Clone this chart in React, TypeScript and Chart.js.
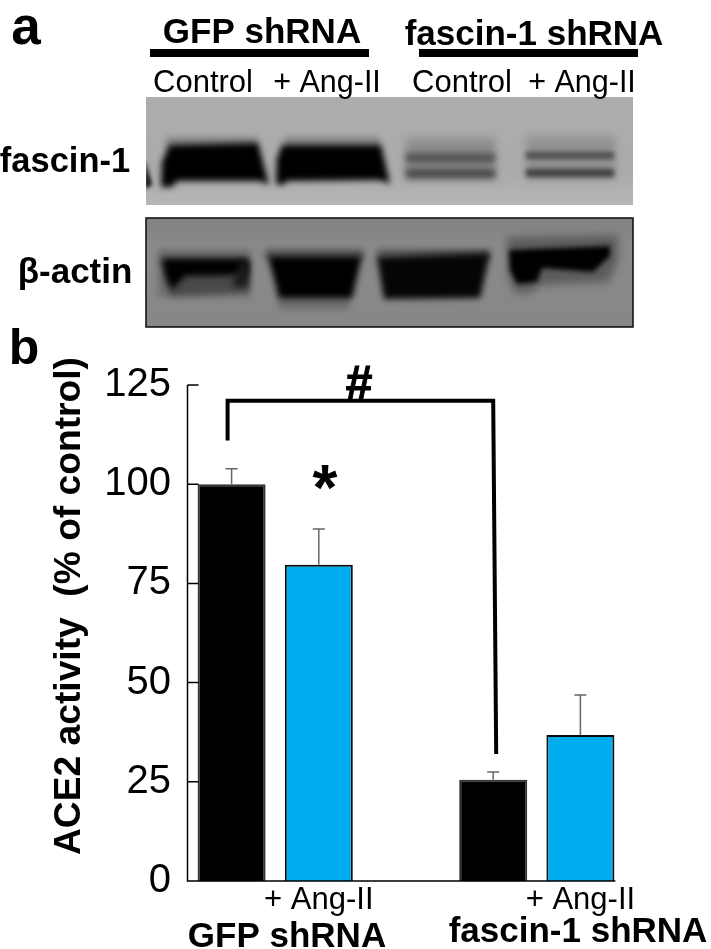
import React, { useEffect, useRef } from "react";
import { Chart, registerables } from "chart.js";

Chart.register(...registerables);

const categories = ["Control", "+ Ang-II", "", "Control", "+ Ang-II"];
const tickLabels = ["", "+ Ang-II", "", "", "+ Ang-II"];
const activity = [100, 79.7, null, 25.5, 36.8];
const errorTops = [103.9, 88.7, null, 27.5, 46.9];
const barColors = ["#000000", "#00AEEF", "#ffffff", "#000000", "#00AEEF"];
const barBorders = ["#333333", "#0a0a0a", "#ffffff", "#333333", "#0a0a0a"];
const yTicks = [0, 25, 50, 75, 100, 125];
const FONT = '"Liberation Sans", Arial, sans-serif';

type Smear = { pts: number[]; c: string; b: number };

const box = (x0: number, y0: number, x1: number, y1: number) => [x0, y0, x1, y0, x1, y1, x0, y1];

const fascinSmears: Smear[] = [
  { pts: box(166, 137, 258, 148), c: "#858585", b: 3 },
  { pts: box(284, 137, 380, 148), c: "#858585", b: 3 },
  { pts: [169, 145, 258, 143, 269, 185, 260, 181, 177, 181, 172, 187, 161, 187, 162, 162], c: "#000", b: 3 },
  { pts: [282, 145, 381, 145, 390, 184, 380, 180, 287, 181, 283, 185, 276, 184, 277, 158], c: "#000", b: 3 },
  { pts: [145, 160, 152, 185, 145, 189], c: "#050505", b: 2 },
  { pts: box(406, 138, 495, 180), c: "#8c8c8c", b: 4 },
  { pts: box(406, 153, 495, 163), c: "#555", b: 3 },
  { pts: box(406, 169, 495, 178), c: "#484848", b: 3 },
  { pts: box(526, 136, 615, 179), c: "#919191", b: 4 },
  { pts: box(526, 152, 614, 159), c: "#4c4c4c", b: 2.5 },
  { pts: box(526, 169, 614, 177), c: "#404040", b: 2.5 },
];
const actinSmears: Smear[] = [
  { pts: box(158, 249, 250, 297), c: "#6e6e6e", b: 3 },
  { pts: [161, 257, 249, 257, 249, 292, 170, 296, 166, 280], c: "#4a4a4a", b: 3 },
  { pts: [162, 259, 248, 259, 248, 275, 185, 276, 172, 290, 166, 278], c: "#000", b: 3 },
  { pts: [240, 262, 248, 262, 248, 287, 232, 287], c: "#1a1a1a", b: 3 },
  { pts: box(265, 249, 364, 259), c: "#5a5a5a", b: 3 },
  { pts: [277, 292, 352, 292, 348, 309, 279, 309], c: "#6a6a6a", b: 3 },
  { pts: [268, 256, 362, 256, 352, 298, 279, 298], c: "#000", b: 3 },
  { pts: box(377, 249, 490, 259), c: "#5a5a5a", b: 3 },
  { pts: [377, 257, 490, 253, 480, 298, 384, 299], c: "#050505", b: 3 },
  { pts: [507, 237, 618, 235, 618, 262, 608, 282, 540, 285, 530, 293, 515, 293, 508, 275], c: "#5c5c5c", b: 4 },
  { pts: [509, 250, 610, 246, 610, 256, 593, 272, 542, 268, 537, 282, 517, 284, 510, 270], c: "#000", b: 2.5 },
];

function text(
  ctx: CanvasRenderingContext2D,
  s: string,
  x: number,
  y: number,
  size: number,
  bold = false,
) {
  ctx.font = `${bold ? "bold " : ""}${size}px ${FONT}`;
  ctx.fillStyle = "#000";
  ctx.textAlign = "center";
  ctx.textBaseline = "alphabetic";
  ctx.fillText(s, x, y);
}

function drawSmears(ctx: CanvasRenderingContext2D, smears: Smear[]) {
  for (const s of smears) {
    ctx.save();
    ctx.filter = `blur(${s.b}px)`;
    ctx.fillStyle = s.c;
    ctx.beginPath();
    ctx.moveTo(s.pts[0], s.pts[1]);
    for (let i = 2; i < s.pts.length; i += 2) ctx.lineTo(s.pts[i], s.pts[i + 1]);
    ctx.closePath();
    ctx.fill();
    ctx.restore();
  }
}

const blotPlugin = {
  id: "blot",
  beforeDraw(chart: any) {
    const ctx: CanvasRenderingContext2D = chart.ctx;
    ctx.save();
    ctx.fillStyle = "#fff";
    ctx.fillRect(0, 0, chart.width, chart.height);

    ctx.save();
    ctx.beginPath();
    ctx.rect(146, 97, 487, 108);
    ctx.clip();
    const g1 = ctx.createLinearGradient(0, 97, 0, 205);
    g1.addColorStop(0, "#adadad");
    g1.addColorStop(0.7, "#ababab");
    g1.addColorStop(1, "#b6b6b6");
    ctx.fillStyle = g1;
    ctx.fillRect(146, 97, 487, 108);
    drawSmears(ctx, fascinSmears);
    ctx.restore();

    ctx.save();
    ctx.beginPath();
    ctx.rect(146, 218, 487, 109);
    ctx.clip();
    const g2 = ctx.createLinearGradient(0, 218, 0, 327);
    g2.addColorStop(0, "#828282");
    g2.addColorStop(0.25, "#8a8a8a");
    g2.addColorStop(1, "#878787");
    ctx.fillStyle = g2;
    ctx.fillRect(146, 218, 487, 109);
    drawSmears(ctx, actinSmears);
    ctx.restore();
    ctx.strokeStyle = "#0a0a0a";
    ctx.lineWidth = 1.5;
    ctx.strokeRect(146, 218, 487, 109);

    ctx.fillStyle = "#000";
    ctx.fillRect(150, 49, 219, 8);
    ctx.fillRect(419, 49, 219, 8);

    text(ctx, "a", 26, 44, 53, true);
    text(ctx, "b", 24, 364, 50, true);
    text(ctx, "GFP shRNA", 262, 43, 35, true);
    text(ctx, "fascin-1 shRNA", 534, 45, 35, true);
    text(ctx, "Control", 203, 92, 31);
    text(ctx, "+ Ang-II", 327, 92, 30.5);
    text(ctx, "Control", 462, 92, 31);
    text(ctx, "+ Ang-II", 582, 92, 30.5);
    text(ctx, "fascin-1", 65, 172, 34.5, true);
    text(ctx, "β-actin", 75, 283, 35, true);
    ctx.restore();
  },
};

const annotationPlugin = {
  id: "annotations",
  afterDraw(chart: any) {
    const ctx: CanvasRenderingContext2D = chart.ctx;
    const x = chart.scales.x;
    const y = chart.scales.y;
    ctx.save();

    // axis lines and inward ticks
    ctx.strokeStyle = "#000";
    ctx.lineWidth = 1.5;
    ctx.beginPath();
    const ax = x.left - 0.5;
    ctx.moveTo(ax, y.getPixelForValue(125));
    ctx.lineTo(ax, y.getPixelForValue(0));
    ctx.lineTo(x.getPixelForValue(4) + 35, y.getPixelForValue(0));
    for (const t of yTicks) {
      const py = y.getPixelForValue(t);
      ctx.moveTo(ax, py);
      ctx.lineTo(ax + 11, py);
    }
    ctx.stroke();

    // error bars
    ctx.strokeStyle = "#666";
    ctx.lineWidth = 1.5;
    errorTops.forEach((v, i) => {
      const val = activity[i];
      if (v == null || val == null) return;
      const px = x.getPixelForValue(i);
      const top = y.getPixelForValue(v);
      ctx.beginPath();
      ctx.moveTo(px, y.getPixelForValue(val));
      ctx.lineTo(px, top);
      ctx.moveTo(px - 6, top);
      ctx.lineTo(px + 6, top);
      ctx.stroke();
    });

    // significance bracket
    ctx.strokeStyle = "#000";
    ctx.lineWidth = 4;
    ctx.lineJoin = "miter";
    ctx.beginPath();
    ctx.moveTo(x.getPixelForValue(0) - 4, y.getPixelForValue(111));
    ctx.lineTo(x.getPixelForValue(0) - 4, y.getPixelForValue(121));
    ctx.lineTo(x.getPixelForValue(3), y.getPixelForValue(121));
    ctx.lineTo(x.getPixelForValue(3) + 3, y.getPixelForValue(32));
    ctx.stroke();

    text(ctx, "#", 359, 399, 48, true);
    ctx.lineWidth = 1;
    ctx.strokeText("#", 359, 399);
    text(ctx, "*", 325, 510, 64, true);
    text(ctx, "GFP shRNA", 287, 947, 35, true);
    text(ctx, "fascin-1 shRNA", 578, 942, 35, true);

    // rotated y-axis title
    ctx.save();
    ctx.translate(80, 606);
    ctx.rotate(-Math.PI / 2);
    text(ctx, "ACE2 activity  (% of control)", 0, 0, 37.2, true);
    ctx.restore();

    ctx.restore();
  },
};

export default function App() {
  const ref = useRef<HTMLCanvasElement>(null);
  useEffect(() => {
    document.body.style.margin = "0";
    const chart = new Chart(ref.current!, {
      type: "bar",
      data: {
        labels: categories,
        datasets: [
          {
            label: "ACE2 activity",
            data: activity,
            backgroundColor: barColors,
            borderColor: barBorders,
            borderWidth: 2,
            barPercentage: 0.78,
            categoryPercentage: 1,
          },
        ],
      },
      options: {
        responsive: false,
        animation: false,
        devicePixelRatio: 1,
        layout: { padding: { top: 385, right: 87, left: 48, bottom: 0 } },
        plugins: { legend: { display: false }, tooltip: { enabled: false } },
        scales: {
          x: {
            grid: { display: false, drawTicks: false },
            border: { display: false },
            ticks: {
              autoSkip: false,
              maxRotation: 0,
              padding: 1,
              color: "#000",
              font: { family: FONT, size: 31 },
              callback: (_v: any, i: number) => tickLabels[i],
            },
            afterFit: (s: any) => {
              s.height = 68;
            },
          },
          y: {
            min: 0,
            max: 125,
            grid: { display: false, drawTicks: false },
            border: { display: false },
            ticks: {
              stepSize: 25,
              padding: 17,
              color: "#000",
              font: { family: FONT, size: 40 },
            },
            afterFit: (s: any) => {
              s.width = 140;
            },
          },
        },
      },
      plugins: [blotPlugin, annotationPlugin],
    } as any);
    return () => chart.destroy();
  }, []);
  return <canvas ref={ref} width={711} height={949} style={{ display: "block" }} />;
}
